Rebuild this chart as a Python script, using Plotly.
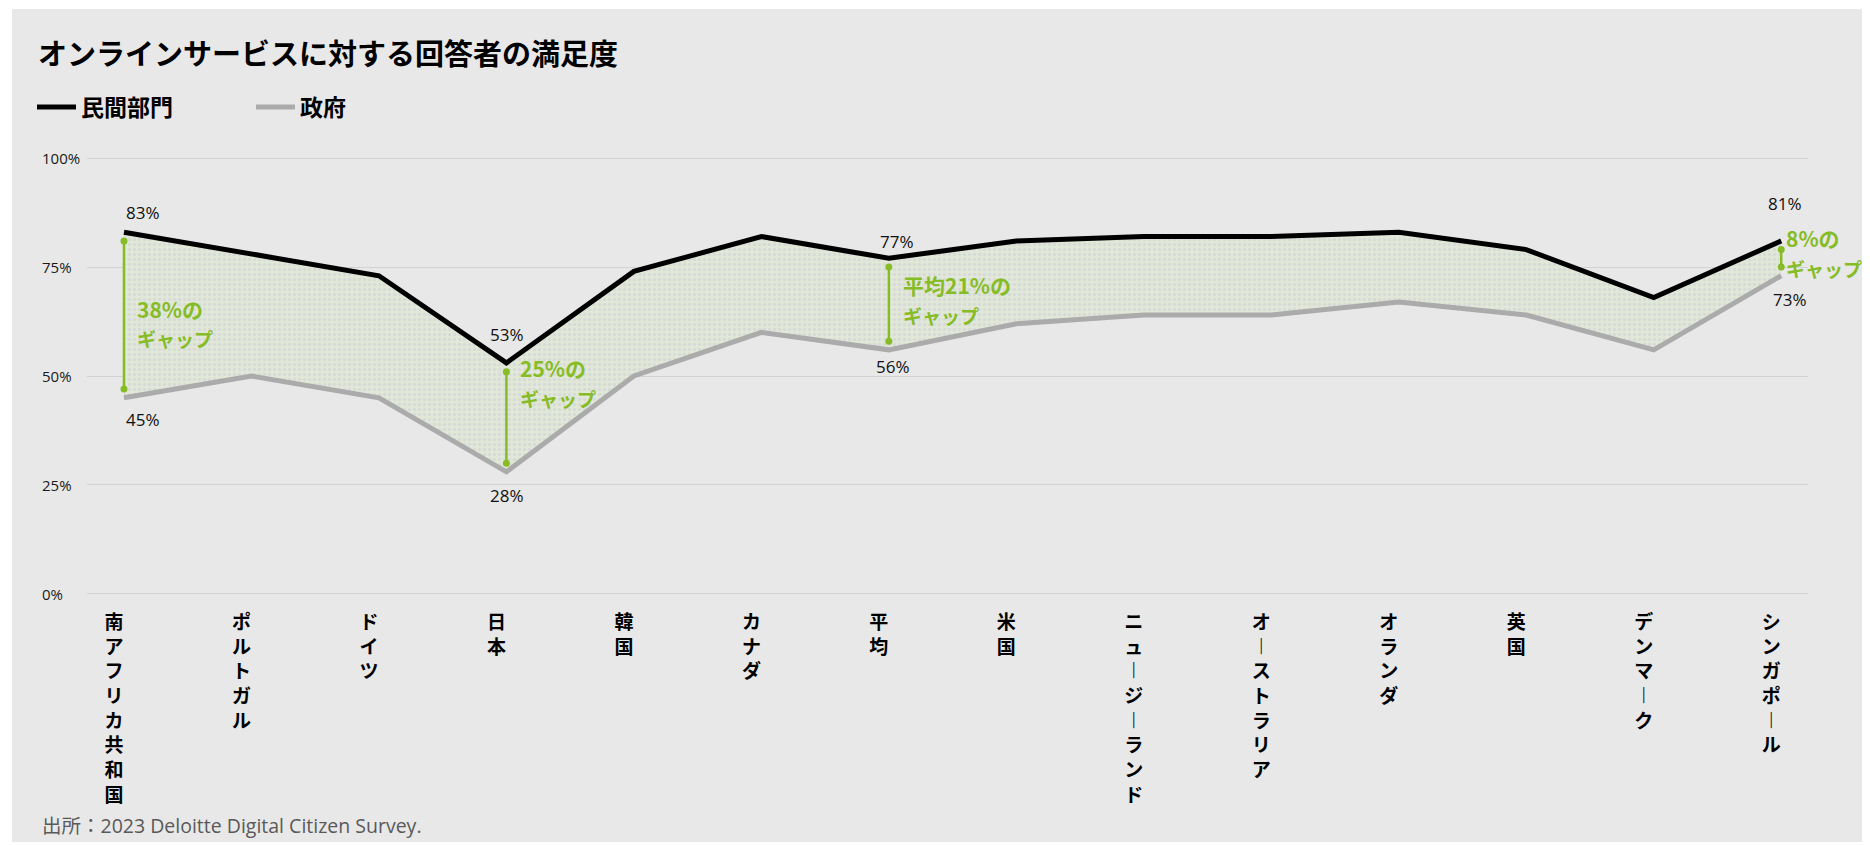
import plotly.graph_objects as go

# ---------------- data ----------------
categories = ["南アフリカ共和国", "ポルトガル", "ドイツ", "日本", "韓国", "カナダ", "平均",
              "米国", "ニュージーランド", "オーストラリア", "オランダ", "英国", "デンマーク", "シンガポール"]
private_sector = [83, 78, 73, 53, 74, 82, 77, 81, 82, 82, 83, 79, 68, 81]
government = [45, 50, 45, 28, 50, 60, 56, 62, 64, 64, 67, 64, 56, 73]
series_names = ["民間部門", "政府"]
y_tick_values = [0, 25, 50, 75, 100]
y_tick_labels = ["0%", "25%", "50%", "75%", "100%"]
labelled_categories = ["南アフリカ共和国", "日本", "平均", "シンガポール"]
gap_prefix = ["", "", "平均", ""]
gap_word = "ギャップ"
title_text = "オンラインサービスに対する回答者の満足度"
source_text = "出所：2023 Deloitte Digital Citizen Survey."

# ---------------- styles ----------------
W, H = 1862, 837
ML, MR, MT, MB = 79, 62, 149, 250
PW, PH = W - ML - MR, H - MT - MB
Y_RANGE = [-0.25, 100.25]
BG = "#e8e8e8"
GREEN = "#86BC25"
GRID = "#d3d3d3"
CJK = "Noto Sans CJK JP"
LAT = "Open Sans, Noto Sans CJK JP"


def px_x(fx):
    return (fx - ML) / PW


def px_y(fy):
    return (MT + PH - fy) / PH


def vertical(s):
    return "<br>".join("︱" if ch == "ー" else ch for ch in s)


fig = go.Figure()

# fill band between the two series
fig.add_trace(go.Scatter(x=categories, y=government, mode="lines", line=dict(width=0),
                         showlegend=False, hoverinfo="skip"))
fig.add_trace(go.Scatter(x=categories, y=private_sector, mode="lines", line=dict(width=0),
                         fill="tonexty", fillcolor="#e1e7d6",
                         fillpattern=dict(shape=".", bgcolor="#e2e8d8", fgcolor="#cbcdd6",
                                          size=5, solidity=0.4),
                         showlegend=False, hoverinfo="skip"))

# lines
fig.add_trace(go.Scatter(x=categories, y=government, mode="lines", name=series_names[1],
                         line=dict(color="#ababab", width=5), legendrank=2))
fig.add_trace(go.Scatter(x=categories, y=private_sector, mode="lines", name=series_names[0],
                         line=dict(color="#000000", width=5), legendrank=1))

label_style = {
    "南アフリカ共和国": dict(p=dict(xanchor="left", xshift=0, yshift=20),
                     g=dict(xanchor="left", xshift=0, yshift=-22),
                     t=dict(xshift=11, yshift=-9)),
    "日本": dict(p=dict(xanchor="center", xshift=1, yshift=28),
               g=dict(xanchor="center", xshift=1, yshift=-24),
               t=dict(xshift=12, yshift=34)),
    "平均": dict(p=dict(xanchor="center", xshift=8, yshift=17),
               g=dict(xanchor="center", xshift=4, yshift=-17),
               t=dict(xshift=12, yshift=4)),
    "シンガポール": dict(p=dict(xanchor="center", xshift=4, yshift=37),
                   g=dict(xanchor="center", xshift=9, yshift=-24),
                   t=dict(xshift=3, yshift=5)),
}

annotations = []
num_font = dict(family=LAT, size=17, color="#111111")
gap_font1 = dict(family=CJK, size=21, color=GREEN, weight="bold")
gap_font2 = dict(family=CJK, size=19, color=GREEN, weight="bold")
for cat, pre in zip(labelled_categories, gap_prefix):
    i = categories.index(cat)
    p, g = private_sector[i], government[i]
    fig.add_trace(go.Scatter(x=[cat, cat], y=[p - 2, g + 2], mode="lines+markers",
                             line=dict(color=GREEN, width=2.5),
                             marker=dict(color=GREEN, size=7),
                             showlegend=False, hoverinfo="skip"))
    st = label_style[cat]
    annotations.append(dict(x=cat, y=p, xref="x", yref="y", text=f"{p}%", showarrow=False,
                            yanchor="middle", font=num_font, **st["p"]))
    annotations.append(dict(x=cat, y=g, xref="x", yref="y", text=f"{g}%", showarrow=False,
                            yanchor="middle", font=num_font, **st["g"]))
    mid = (p + g) / 2
    for line_text, dy, fnt in ((f"{pre}{p - g}%の", 15, gap_font1), (gap_word, -15, gap_font2)):
        annotations.append(dict(x=cat, y=mid, xref="x", yref="y", text=line_text,
                                showarrow=False, xanchor="left", yanchor="middle",
                                font=fnt, xshift=st["t"]["xshift"],
                                yshift=st["t"]["yshift"] + dy))

# y tick labels (left aligned)
for v, lab in zip(y_tick_values, y_tick_labels):
    annotations.append(dict(x=px_x(32), y=v, xref="paper", yref="y", text=lab, showarrow=False,
                            xanchor="left", yanchor="middle",
                            font=dict(family=LAT, size=15, color="#1a1a1a")))

# source
annotations.append(dict(x=px_x(32), y=px_y(817), xref="paper", yref="paper", text=source_text,
                        showarrow=False, xanchor="left", yanchor="middle",
                        font=dict(family=LAT, size=19.5, color="#595959")))

fig.update_layout(
    width=W, height=H,
    margin=dict(l=ML, r=MR, t=MT, b=MB),
    paper_bgcolor="#ffffff",
    plot_bgcolor=BG,
    shapes=[dict(type="rect", xref="paper", yref="paper", layer="below",
                 x0=px_x(4), x1=px_x(W), y0=px_y(834), y1=px_y(1),
                 fillcolor=BG, line=dict(width=0))],
    title=dict(text=title_text, xref="container", yref="container",
               x=30 / W, y=1 - 47 / H, xanchor="left", yanchor="middle",
               font=dict(family=CJK, size=29, color="#000000", weight="bold")),
    legend=dict(orientation="h", xref="container", yref="container", traceorder="normal",
                x=24 / W, y=1 - 99 / H, xanchor="left", yanchor="middle",
                font=dict(family=CJK, size=23, color="#000000", weight="bold"),
                bgcolor="rgba(0,0,0,0)", itemwidth=39,
                entrywidth=165, entrywidthmode="pixels"),
    xaxis=dict(type="category", range=[-0.29, 13.21], tickvals=categories,
               ticktext=[vertical(c) for c in categories],
               tickfont=dict(family=CJK, size=19, color="#000000", weight="bold"),
               showgrid=False, zeroline=False, showline=False,
               ticks="outside", ticklen=10, tickcolor="rgba(0,0,0,0)",
               ticklabelshift=-10, fixedrange=True),
    yaxis=dict(range=Y_RANGE, tickvals=y_tick_values, showticklabels=False,
               showgrid=True, gridcolor=GRID, gridwidth=1, zeroline=False,
               showline=False, fixedrange=True),
    annotations=annotations,
    showlegend=True,
    hovermode=False,
)

fig.write_html("out.html")
